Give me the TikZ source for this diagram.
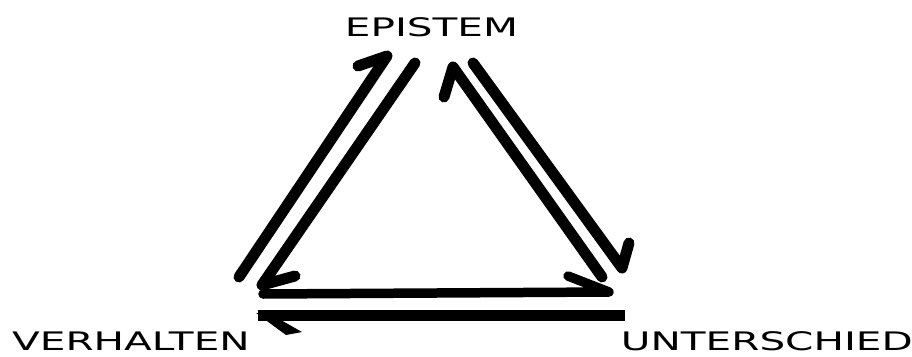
\documentclass[tikz,border=0pt]{standalone}
\usepackage{graphicx}
\usepackage{fontspec}
\setmainfont{DejaVu Sans}
\begin{document}
\begin{tikzpicture}[x=1pt,y=-1pt,
  lbl/.style={inner sep=0pt, font=\fontsize{25.5}{28}\selectfont},
  stroke/.style={line width=11pt, line cap=round, line join=round},
  thin stroke/.style={line width=9.5pt, line cap=round, line join=round}]
\useasboundingbox (0,0) rectangle (912,356);
% labels
\node[lbl, anchor=base] (ep) at (431.5,36.5) {\scalebox{1.59}[1]{EPISTEM}};
\node[lbl, anchor=base west] (ve) at (12,350) {\scalebox{1.59}[1]{VERHALTEN}};
\node[lbl, anchor=base east] (un) at (913,350) {\scalebox{1.59}[1]{UNTERSCHIED}};
% arrow end points
\coordinate (l1s) at (239,277);
\coordinate (l1t) at (387,56);
\coordinate (l1b) at (358,66);
\coordinate (l2s) at (415,63);
\coordinate (l2t) at (262,285);
\coordinate (l2b) at (295,276);
\coordinate (r1s) at (602,277);
\coordinate (r1t) at (453,67);
\coordinate (r1b) at (444,97);
\coordinate (r2s) at (473,63);
\coordinate (r2t) at (622,268);
\coordinate (r2b) at (629,243);
\coordinate (b1s) at (263,294);
\coordinate (b1t) at (609,292);
\coordinate (b1b) at (568,276);
\coordinate (b2s) at (625,315);
\coordinate (b2t) at (258,315);
% arrows
\draw[stroke] (l1s) -- (l1t) -- (l1b);
\draw[stroke] (l2s) -- (l2t) -- (l2b);
\draw[stroke] (r1s) -- (r1t) -- (r1b);
\draw[stroke] (r2s) -- (r2t) -- (r2b);
\draw[thin stroke] (b1s) -- (b1t) -- (b1b);
\draw[stroke, line cap=butt] (b2s) -- (b2t);
\fill (b2t) ++(-2,-2) -- ++(30,22) -- ++(16,-3) -- ++(-30,-17) -- cycle;
\end{tikzpicture}
\end{document}
